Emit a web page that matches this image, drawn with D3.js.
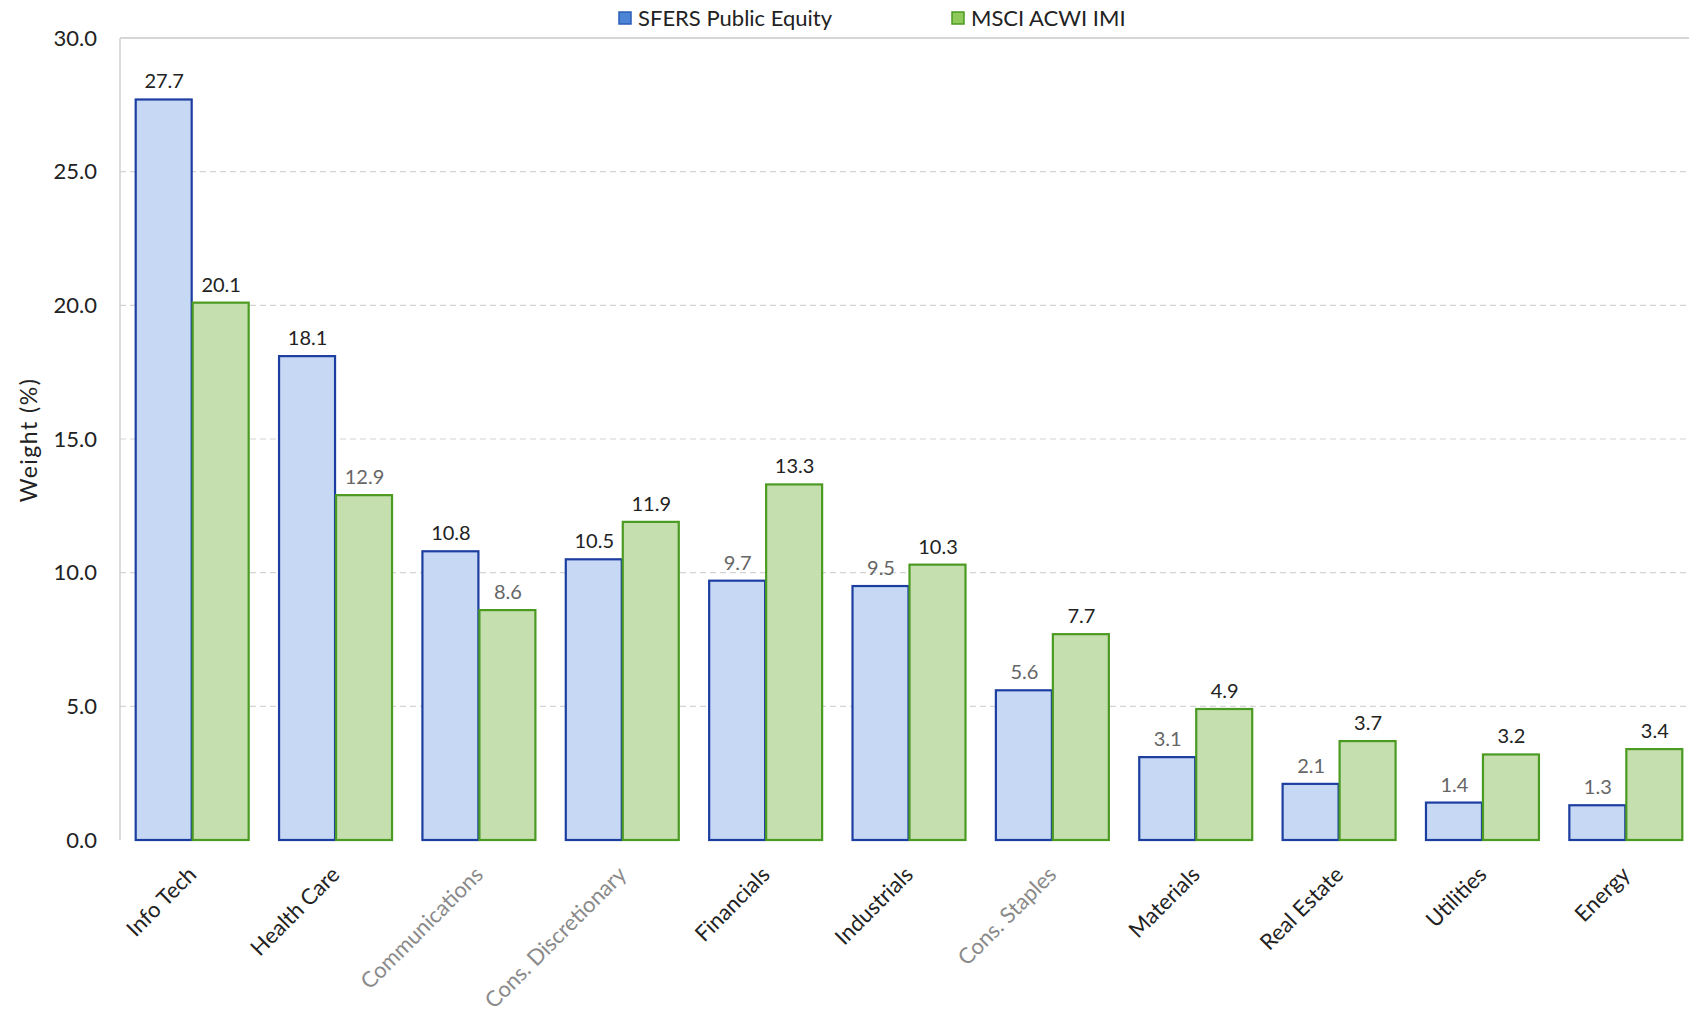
<!DOCTYPE html>
<html><head><meta charset="utf-8">
<script src="https://cdn.jsdelivr.net/npm/d3@7"></script>
<style>
html,body{margin:0;padding:0;background:#fff;}
svg text{font-family:Lato,"Open Sans",sans-serif;}
</style></head>
<body>
<svg id="chart" width="1689" height="1013"></svg>
<script>
const categories = ["Info Tech","Health Care","Communications","Cons. Discretionary","Financials","Industrials","Cons. Staples","Materials","Real Estate","Utilities","Energy"];
const sfersValues = [27.7,18.1,10.8,10.5,9.7,9.5,5.6,3.1,2.1,1.4,1.3];
const msciValues = [20.1,12.9,8.6,11.9,13.3,10.3,7.7,4.9,3.7,3.2,3.4];
const seriesNames = ["SFERS Public Equity","MSCI ACWI IMI"];
const yTicks = [0,5,10,15,20,25,30];
const yAxisTitle = "Weight (%)";

(function(){
const svg = d3.select("#chart");
const pL = 120, pR = 1697, pT = 38, pB = 840;

const x = d3.scaleBand().domain(categories).range([pL, pR]).paddingInner(0.205).paddingOuter(0.1025);
const xs = d3.scaleBand().domain([0,1]).range([0, x.bandwidth()]);
const y = d3.scaleLinear().domain([0,30]).range([pB, pT]);

// gridlines
svg.append("g").selectAll("line").data(yTicks.filter(d=>d>0 && d<30)).join("line")
  .attr("x1", pL).attr("x2", 1689).attr("y1", d=>y(d)).attr("y2", d=>y(d))
  .attr("stroke","#d4d4d4").attr("stroke-width",1.2).attr("stroke-dasharray","6,4");
// plot border top and left
svg.append("line").attr("x1",pL).attr("x2",1689).attr("y1",pT).attr("y2",pT).attr("stroke","#c8c8c8").attr("stroke-width",1.5);
svg.append("line").attr("x1",pL).attr("x2",pL).attr("y1",pT).attr("y2",pB).attr("stroke","#d0d0d0").attr("stroke-width",1.5);

// y axis ticks
const yAxis = d3.axisLeft(y).tickValues(yTicks).tickFormat(d3.format(".1f")).tickSize(0).tickPadding(23);
const ya = svg.append("g").attr("transform",`translate(${pL},0)`).call(yAxis);
ya.select(".domain").remove();
ya.selectAll("text").attr("font-size",22).attr("fill","#222").style("font-family","Lato");

// y title
svg.append("text").attr("transform",`translate(37,${(pT+pB)/2+1}) rotate(-90)`)
  .attr("text-anchor","middle").attr("font-size",23).attr("letter-spacing",1.5).attr("fill","#222").text(yAxisTitle);

const series = [
  {name:seriesNames[0], values:sfersValues, fill:"#c6d8f4", stroke:"#1c3ea0"},
  {name:seriesNames[1], values:msciValues, fill:"#c5dfae", stroke:"#4b9a22"}
];
const grayVal = [new Set([4,5,6,7,8,9,10]), new Set([1,2])];
const grayCat = new Set([2,3,6]);

series.forEach((s,si)=>{
  const g = svg.append("g");
  g.selectAll("rect").data(s.values).join("rect")
    .attr("x",(d,i)=>x(categories[i])+xs(si)+1)
    .attr("width", xs.bandwidth()-1)
    .attr("y", d=>y(d))
    .attr("height", d=>pB-y(d))
    .attr("fill", s.fill).attr("stroke", s.stroke).attr("stroke-width",2.2);
  g.selectAll("text").data(s.values).join("text")
    .attr("x",(d,i)=>x(categories[i])+xs(si)+xs.bandwidth()/2+1)
    .attr("y", d=>y(d)-11)
    .attr("text-anchor","middle").attr("font-size",20)
    .attr("fill",(d,i)=>grayVal[si].has(i)?"#666":"#222")
    .text(d=>d3.format(".1f")(d));
});

// category labels
svg.append("g").selectAll("text").data(categories).join("text")
  .attr("transform",(d)=>`translate(${x(d)+x.bandwidth()/2+6},${pB+36}) rotate(-45)`)
  .attr("text-anchor","end").attr("font-size",22)
  .attr("fill",(d,i)=>grayCat.has(i)?"#8a8a8a":"#222")
  .text(d=>d);

// legend
const leg = [{x:619, s:series[0], fillM:"#4d85d6", strokeM:"#2a5cb8"},{x:952, s:series[1], fillM:"#8ec95a", strokeM:"#4b9a22"}];
leg.forEach(l=>{
  svg.append("rect").attr("x",l.x).attr("y",12).attr("width",12).attr("height",12)
    .attr("fill",l.fillM).attr("stroke",l.strokeM).attr("stroke-width",1.5);
  svg.append("text").attr("x",l.x+19).attr("y",26).attr("font-size",22).attr("fill","#222").text(l.s.name);
});
})();
</script>
</body></html>
